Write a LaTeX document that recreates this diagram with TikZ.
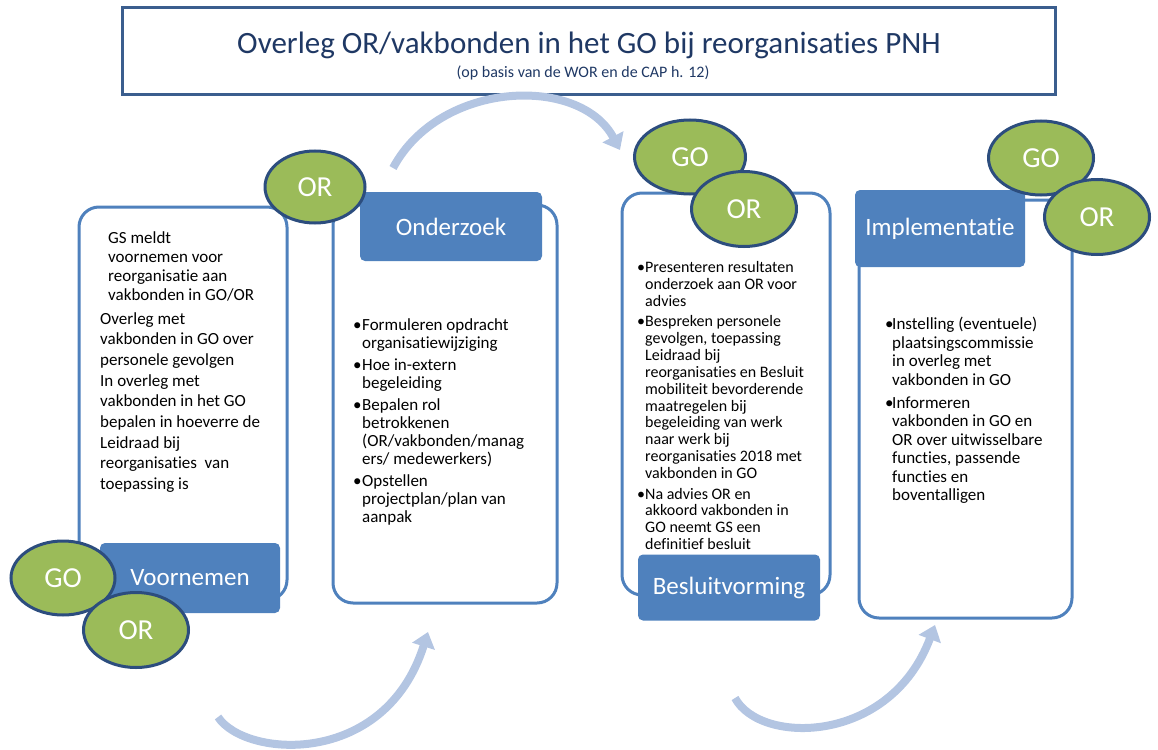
\documentclass[tikz,border=0pt]{standalone}
\usepackage{fontspec}
\setmainfont{Carlito}[Ligatures=NoCommon]
\usetikzlibrary{arrows.meta,shapes.geometric}
\definecolor{titleblue}{HTML}{1F3864}
\definecolor{framedark}{HTML}{3B5E8E}
\definecolor{panelblue}{HTML}{4F81BD}
\definecolor{ellgreen}{HTML}{9BBB59}
\definecolor{ellborder}{HTML}{2C4D7E}
\definecolor{arrowblue}{HTML}{B3C5E2}
\newcommand{\bl}[1]{\makebox[#1][l]{\textbullet}}
\begin{document}
\begin{tikzpicture}[x=1pt,y=-1pt,
  panel/.style={draw=panelblue, line width=3pt, rounded corners=20pt, fill=white, inner sep=0},
  stage/.style={fill=panelblue, rounded corners=5pt, text=white, inner sep=0, font=\fontsize{25}{30}\selectfont},
  badge/.style={ellipse, fill=ellgreen, draw=ellborder, line width=3pt, text=white, inner sep=0, font=\fontsize{29}{34}\selectfont},
  body/.style={anchor=north west, inner sep=0, align=left, text=black},
  flow/.style={draw=arrowblue, line width=8pt, -{Triangle[length=15pt,width=23pt]}}]
\useasboundingbox (0,0) rectangle (1158,749);

% title
\node[draw=framedark, line width=3pt, minimum width=933pt, minimum height=87pt, inner sep=0] (title) at (588.5,51.5) {};
\node[text=titleblue, font=\fontsize{31}{36}\selectfont, inner sep=0] (titletext) at (589,45) {Overleg OR/vakbonden in het GO bij reorganisaties PNH};
\node[text=titleblue, font=\fontsize{16}{19}\selectfont, inner sep=0] (subtitle) at (583,73) {(op basis van de WOR en de CAP h. 12)};

% arrows
\coordinate (a1s) at (393,168); \coordinate (a1e) at (620,150);
\coordinate (a2s) at (218,717); \coordinate (a2e) at (428,632);
\coordinate (a3s) at (735,698); \coordinate (a3e) at (935,625);
\draw[flow] (a1s) .. controls (440,80) and (580,75) .. (a1e);
\draw[flow] (a2s) .. controls (245,758) and (385,768) .. (a2e);
\draw[flow] (a3s) .. controls (760,745) and (890,745) .. (a3e);

% panels
\node[panel, minimum width=208pt, minimum height=393pt] (p1) at (183,403.5) {};
\node[panel, minimum width=224pt, minimum height=398pt] (p2) at (445,404) {};
\node[panel, minimum width=208pt, minimum height=402pt] (p3) at (726,394) {};
\node[panel, minimum width=213pt, minimum height=418pt] (p4) at (965.5,409) {};

% stage labels
\node[stage, minimum width=180pt, minimum height=70pt] (s1) at (190,578) {Voornemen};
\node[stage, minimum width=182pt, minimum height=69pt] (s2) at (451,226.5) {Onderzoek};
\node[stage, minimum width=182pt, minimum height=66pt] (s3) at (729,587.5) {Besluitvorming};
\node[stage, minimum width=170pt, minimum height=77pt] (s4) at (940,228.5) {Implementatie};

% badges
\node[badge, minimum width=100pt, minimum height=72pt] (or2) at (315,187) {OR};
\node[badge, minimum width=104pt, minimum height=74pt] (go1) at (63,578) {GO};
\node[badge, minimum width=105pt, minimum height=75pt] (or1) at (136,630) {OR};
\node[badge, minimum width=111pt, minimum height=74pt] (go3) at (690,157) {GO};
\node[badge, minimum width=105pt, minimum height=75pt] (or3) at (744,209) {OR};
\node[badge, minimum width=105pt, minimum height=74pt] (go4) at (1041,158) {GO};
\node[badge, minimum width=105pt, minimum height=75pt] (or4) at (1097,217) {OR};

% texts
\node[body, font=\fontsize{17}{19}\selectfont] (t1a) at (108,231)
 {GS meldt\\ voornemen voor\\ reorganisatie aan\\ vakbonden in GO/OR};
\node[body, font=\fontsize{17}{20.7}\selectfont] (t1b) at (100,312)
 {Overleg met\\ vakbonden in GO over\\ personele gevolgen\\ In overleg met\\ vakbonden in het GO\\ bepalen in hoeverre de\\ Leidraad bij\\ reorganisaties\ \ van\\ toepassing is};
\node[body, font=\fontsize{17}{18}\selectfont] (t2) at (353,318)
 {\bl{9pt}Formuleren opdracht\\ \hspace*{9pt}organisatiewijziging\\[4pt]
  \bl{9pt}Hoe in-extern\\ \hspace*{9pt}begeleiding\\[4pt]
  \bl{9pt}Bepalen rol\\ \hspace*{9pt}betrokkenen\\ \hspace*{9pt}(OR/vakbonden/manag\\ \hspace*{9pt}ers/ medewerkers)\\[4pt]
  \bl{9pt}Opstellen\\ \hspace*{9pt}projectplan/plan van\\ \hspace*{9pt}aanpak};
\node[body, font=\fontsize{16}{16.9}\selectfont] (t3) at (637,261)
 {\bl{8pt}Presenteren resultaten\\ \hspace*{8pt}onderzoek aan OR voor\\ \hspace*{8pt}advies\\[3.5pt]
  \bl{8pt}Bespreken personele\\ \hspace*{8pt}gevolgen, toepassing\\ \hspace*{8pt}Leidraad bij\\ \hspace*{8pt}reorganisaties en Besluit\\ \hspace*{8pt}mobiliteit bevorderende\\ \hspace*{8pt}maatregelen bij\\ \hspace*{8pt}begeleiding van werk\\ \hspace*{8pt}naar werk bij\\ \hspace*{8pt}reorganisaties 2018 met\\ \hspace*{8pt}vakbonden in GO\\[3.5pt]
  \bl{8pt}Na advies OR en\\ \hspace*{8pt}akkoord vakbonden in\\ \hspace*{8pt}GO neemt GS een\\ \hspace*{8pt}definitief besluit};
\node[body, font=\fontsize{17}{18.5}\selectfont] (t4) at (885,317)
 {\bl{7pt}Instelling (eventuele)\\ \hspace*{7pt}plaatsingscommissie\\ \hspace*{7pt}in overleg met\\ \hspace*{7pt}vakbonden in GO\\[4.5pt]
  \bl{7pt}Informeren\\ \hspace*{7pt}vakbonden in GO en\\ \hspace*{7pt}OR over uitwisselbare\\ \hspace*{7pt}functies, passende\\ \hspace*{7pt}functies en\\ \hspace*{7pt}boventalligen};
\end{tikzpicture}
\end{document}
